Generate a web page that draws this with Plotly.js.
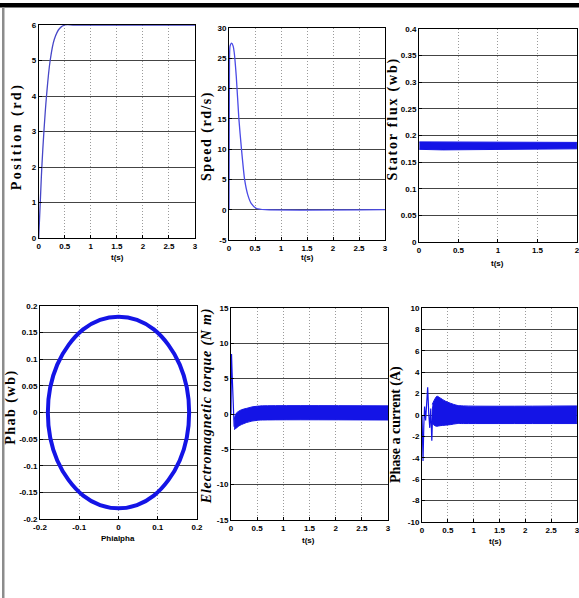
<!DOCTYPE html>
<html>
<head>
<meta charset="utf-8">
<script src="https://cdn.plot.ly/plotly-3.0.1.min.js"></script>
<style>
  html, body { margin: 0; padding: 0; background: #fff; }
  #chart { width: 579px; height: 598px; }
  .annotation[data-index="0"] text { letter-spacing: 2.5px; }
  .annotation[data-index="1"] text { letter-spacing: 1.5px; }
  .annotation[data-index="2"] text { letter-spacing: 1.8px; }
  .annotation[data-index="3"] text { letter-spacing: 1.5px; }
  .annotation[data-index="4"] text { letter-spacing: 0.8px; }
</style>
</head>
<body>
<div id="chart"></div>
<script>
// Rotor position (rd) vs time (s)
const posT = [0, 0.03, 0.06, 0.1, 0.15, 0.22, 0.3, 0.4, 0.5, 0.7, 3];
const posV = [0, 1, 2, 3, 4, 5, 5.6, 5.9, 6, 6, 6];

// Rotor speed (rd/s)
const spdT = [0, 0.008, 0.02, 0.05, 0.08, 0.1, 0.14, 0.19, 0.24, 0.3, 0.36, 0.43, 0.53, 0.7, 3];
const spdV = [0, 22, 27, 27.5, 27, 26, 22, 15, 10, 5, 2.5, 1, 0.2, 0, 0];

// Stator flux magnitude band (wb)
const fluxT = [0.005, 0.3, 2];
const fluxHi = [0.188, 0.188, 0.187];
const fluxLo = [0.174, 0.173, 0.175];

// Flux trajectory in the alpha-beta plane (wb)
const phiAlpha = [0.180, 0.174, 0.156, 0.127, 0.090, 0.047, 0, -0.047, -0.090, -0.127, -0.156, -0.174,
                  -0.180, -0.174, -0.156, -0.127, -0.090, -0.047, 0, 0.047, 0.090, 0.127, 0.156, 0.174, 0.180];
const phiBeta  = [0, 0.047, 0.090, 0.127, 0.156, 0.174, 0.180, 0.174, 0.156, 0.127, 0.090, 0.047,
                  0, -0.047, -0.090, -0.127, -0.156, -0.174, -0.180, -0.174, -0.156, -0.127, -0.090, -0.047, 0];

// Electromagnetic torque (N m): start-up spike, then ripple band
const tqT = [0, 0.005, 0.01, 0.02, 0.03, 0.045, 0.06];
const tqV = [0, 7.5, 8.5, 6, 3, 0, -1.8];
const tqBandT = [0.06, 0.1, 0.15, 0.2, 0.3, 0.4, 0.5, 0.6, 3];
const tqHi = [-0.8, 0.1, 0.4, 0.6, 0.8, 1.0, 1.1, 1.15, 1.15];
const tqLo = [-2.2, -2.0, -1.7, -1.5, -1.2, -1.0, -0.9, -0.85, -0.85];

// Phase a current (A): start-up transient, then ripple band
const iaT = [0, 0.01, 0.02, 0.035, 0.05, 0.07, 0.09, 0.11, 0.13, 0.15, 0.17, 0.19, 0.21];
const iaV = [0, -2, -4.3, -1, 0.8, -0.5, 1.5, 2.6, 0.2, -1.2, 0.6, -2.4, 0.8];
const iaBandT = [0.2, 0.25, 0.29, 0.35, 0.45, 0.55, 0.68, 0.8, 3];
const iaHi = [1.0, 1.5, 1.75, 1.6, 1.3, 1.1, 0.9, 0.85, 0.85];
const iaLo = [-0.8, -1.0, -1.05, -1.0, -0.95, -0.9, -0.8, -0.8, -0.8];

// Tick labels
const tTicks3 = [0, 0.5, 1, 1.5, 2, 2.5, 3];
const tTicks3Text = ['0', '0.5', '1', '1.5', '2', '2.5', '3'];
const tTicks2 = [0, 0.5, 1, 1.5, 2];
const tTicks2Text = ['0', '0.5', '1', '1.5', '2'];
const posTicks = [0, 1, 2, 3, 4, 5, 6];
const spdTicks = [-5, 0, 5, 10, 15, 20, 25, 30];
const fluxTicks = [0, 0.05, 0.1, 0.15, 0.2, 0.25, 0.3, 0.35, 0.4];
const fluxTickText = ['0', '0.05', '0.1', '0.15', '0.2', '0.25', '0.3', '0.35', '0.4'];
const alphaTicks = [-0.2, -0.1, 0, 0.1, 0.2];
const alphaTickText = ['-0.2', '-0.1', '0', '0.1', '0.2'];
const betaTicks = [-0.2, -0.15, -0.1, -0.05, 0, 0.05, 0.1, 0.15, 0.2];
const betaTickText = ['-0.2', '-0.15', '-0.1', '-0.05', '0', '0.05', '0.1', '0.15', '0.2'];
const tqTicks = [-15, -10, -5, 0, 5, 10, 15];
const iaTicks = [-10, -8, -6, -4, -2, 0, 2, 4, 6, 8, 10];

const W = 579, H = 598;
const BLUE = '#1414e6';
const px = v => v / W;
const py = v => 1 - v / H;

const narrow = 'Liberation Sans Narrow, Arial Narrow, Liberation Sans, Arial, sans-serif';
const tickFont = { family: narrow, size: 8, color: '#000', weight: 'bold' };

function xAx(l, r, anchor, range, vals, text) {
  return {
    domain: [px(l), px(r)], anchor: anchor, range: range,
    tickmode: 'array', tickvals: vals, ticktext: text,
    ticks: 'inside', ticklen: 3, tickcolor: '#000',
    showline: true, linecolor: '#000', linewidth: 1, mirror: true,
    showgrid: true, gridcolor: '#9a9a9a', griddash: '1px,2px', gridwidth: 1,
    zeroline: false, tickfont: tickFont, ticklabelstandoff: 0,
    ticklabeloverflow: 'allow', fixedrange: true
  };
}
function yAx(b, t, anchor, range, vals, text) {
  return {
    domain: [py(b), py(t)], anchor: anchor, range: range,
    tickmode: 'array', tickvals: vals, ticktext: text,
    ticks: 'inside', ticklen: 3, tickcolor: '#000',
    showline: true, linecolor: '#000', linewidth: 1, mirror: true,
    showgrid: true, gridcolor: '#444', gridwidth: 1,
    zeroline: false, tickfont: tickFont, ticklabelstandoff: 0, fixedrange: true
  };
}

const traces = [
  { x: posT, y: posV, xaxis: 'x', yaxis: 'y', mode: 'lines', line: { color: '#4646c8', width: 1.3, shape: 'spline' } },
  { x: spdT, y: spdV, xaxis: 'x2', yaxis: 'y2', mode: 'lines', line: { color: '#4a4ae6', width: 1.3, shape: 'spline', smoothing: 0.6 } },
  { x: fluxT, y: fluxLo, xaxis: 'x3', yaxis: 'y3', mode: 'lines', line: { color: BLUE, width: 1 } },
  { x: fluxT, y: fluxHi, xaxis: 'x3', yaxis: 'y3', mode: 'lines', line: { color: BLUE, width: 1 }, fill: 'tonexty', fillcolor: BLUE },
  { x: phiAlpha, y: phiBeta, xaxis: 'x4', yaxis: 'y4', mode: 'lines', line: { color: BLUE, width: 4, shape: 'spline' } },
  { x: tqT, y: tqV, xaxis: 'x5', yaxis: 'y5', mode: 'lines', line: { color: BLUE, width: 1.2 } },
  { x: tqBandT, y: tqLo, xaxis: 'x5', yaxis: 'y5', mode: 'lines', line: { color: BLUE, width: 1, shape: 'spline' } },
  { x: tqBandT, y: tqHi, xaxis: 'x5', yaxis: 'y5', mode: 'lines', line: { color: BLUE, width: 1, shape: 'spline' }, fill: 'tonexty', fillcolor: BLUE },
  { x: iaT, y: iaV, xaxis: 'x6', yaxis: 'y6', mode: 'lines', line: { color: BLUE, width: 1.2 } },
  { x: iaBandT, y: iaLo, xaxis: 'x6', yaxis: 'y6', mode: 'lines', line: { color: BLUE, width: 1, shape: 'spline' } },
  { x: iaBandT, y: iaHi, xaxis: 'x6', yaxis: 'y6', mode: 'lines', line: { color: BLUE, width: 1, shape: 'spline' }, fill: 'tonexty', fillcolor: BLUE }
];

const serif = 'Liberation Serif, Times New Roman, serif';
function yTitle(text, x, y, italic) {
  return {
    xref: 'paper', yref: 'paper', x: px(x), y: py(y), text: text, textangle: -90,
    showarrow: false, xanchor: 'center', yanchor: 'middle',
    font: { family: serif, size: 14, color: '#000', weight: 'bold', style: italic ? 'italic' : 'normal' }
  };
}
function xTitle(text, x, y) {
  return {
    xref: 'paper', yref: 'paper', x: px(x), y: py(y), text: text,
    showarrow: false, xanchor: 'center', yanchor: 'middle',
    font: { family: narrow, size: 8, color: '#000', weight: 'bold' }
  };
}

const layout = {
  width: W, height: H,
  margin: { l: 0, r: 0, t: 0, b: 0 },
  paper_bgcolor: '#fff', plot_bgcolor: '#fff',
  showlegend: false,
  xaxis:  xAx(38.7, 195, 'y',  [0, 3], tTicks3, tTicks3Text),
  yaxis:  yAx(238, 25, 'x',   [0, 6], posTicks, posTicks.map(String)),
  xaxis2: xAx(229, 385, 'y2', [0, 3], tTicks3, tTicks3Text),
  yaxis2: yAx(240, 28, 'x2',  [-5, 30], spdTicks, spdTicks.map(String)),
  xaxis3: xAx(419, 577, 'y3', [0, 2.001], tTicks2, tTicks2Text),
  yaxis3: yAx(242, 29, 'x3',  [0, 0.4], fluxTicks, fluxTickText),
  xaxis4: xAx(40, 197, 'y4',  [-0.2, 0.2], alphaTicks, alphaTickText),
  yaxis4: yAx(519, 306, 'x4', [-0.2, 0.2], betaTicks, betaTickText),
  xaxis5: xAx(231, 388, 'y5', [0, 3], tTicks3, tTicks3Text),
  yaxis5: yAx(520, 308, 'x5', [-15, 15], tqTicks, tqTicks.map(String)),
  xaxis6: xAx(422, 577, 'y6', [0, 3.002], tTicks3, tTicks3Text),
  yaxis6: yAx(522, 308, 'x6', [-10, 10], iaTicks, iaTicks.map(String)),
  annotations: [
    yTitle('Position (rd)', 17, 137),
    yTitle('Speed (rd/s)', 207, 136),
    yTitle('Stator flux (wb)', 393, 119),
    yTitle('Phab (wb)', 11, 407),
    yTitle('Electromagnetic torque (N m)', 207, 406, true),
    yTitle('Phase a current (A)', 396, 425),
    xTitle('t(s)', 117, 258),
    xTitle('t(s)', 307, 258),
    xTitle('t(s)', 497, 264),
    xTitle('Phialpha', 118, 538),
    xTitle('t(s)', 308, 540),
    xTitle('t(s)', 495, 541)
  ],
  shapes: [
    // frame: heavy top rule and grey left rule
    { type: 'rect', xref: 'paper', yref: 'paper', x0: 0, x1: 1, y0: py(7.5), y1: py(3), fillcolor: '#000', line: { width: 0 } },
    { type: 'rect', xref: 'paper', yref: 'paper', x0: px(2), x1: px(4.5), y0: 0, y1: py(7), fillcolor: '#8c8c8c', line: { width: 0 } }
  ]
};

Plotly.newPlot('chart', traces, layout, { staticPlot: true, displayModeBar: false });
</script>
</body>
</html>
